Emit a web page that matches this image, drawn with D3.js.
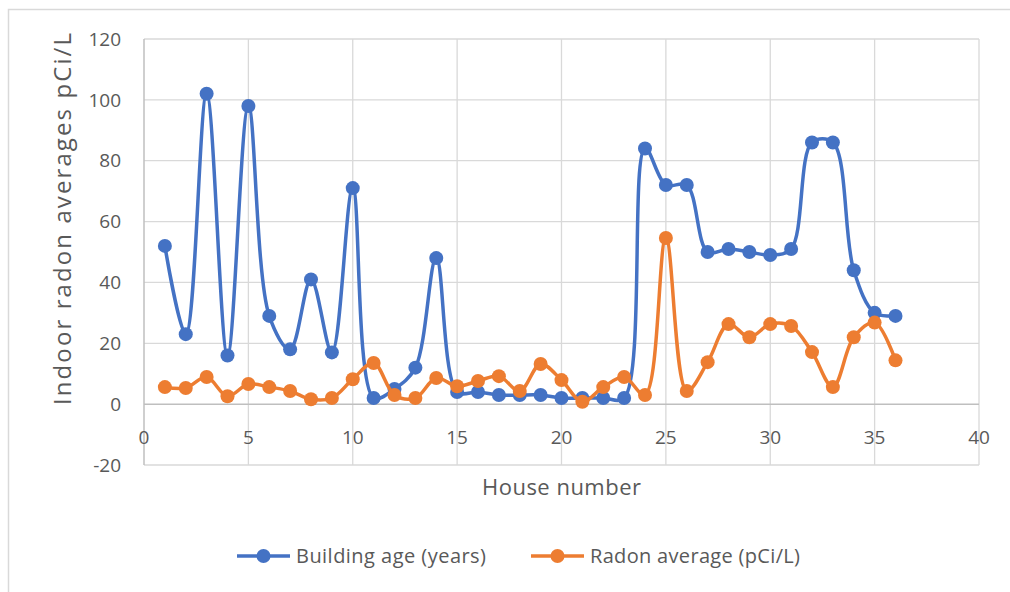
<!DOCTYPE html>
<html>
<head>
<meta charset="utf-8">
<script src="https://cdn.jsdelivr.net/npm/d3@7"></script>
<style>
  body { margin: 0; background: #fff; }
  svg text { font-family: "Open Sans", sans-serif; fill: #595959; }
</style>
</head>
<body>
<div id="chart"></div>
<script>
// house numbers 1..36
const houses = [1, 2, 3, 4, 5, 6, 7, 8, 9, 10, 11, 12, 13, 14, 15, 16, 17, 18,
  19, 20, 21, 22, 23, 24, 25, 26, 27, 28, 29, 30, 31, 32, 33, 34, 35, 36];
const buildingAge = [52, 23, 102, 16, 98, 29, 18, 41, 17, 71, 2, 5, 12, 48, 4, 4, 3, 3,
  3, 2, 2, 2, 2, 84, 72, 72, 50, 51, 50, 49, 51, 86, 86, 44, 30, 29];
const radonAvg = [5.6, 5.3, 8.9, 2.6, 6.6, 5.6, 4.3, 1.6, 2, 8.2, 13.5, 3, 2, 8.6, 5.9, 7.6, 9.2, 4.3,
  13.2, 7.9, 0.8, 5.6, 8.9, 3, 54.6, 4.3, 13.8, 26.3, 22, 26.3, 25.7, 17.1, 5.6, 22, 26.8, 14.4];
const xTicks = [0, 5, 10, 15, 20, 25, 30, 35, 40];
const yTicks = [-20, 0, 20, 40, 60, 80, 100, 120];

const series = [
  { name: "Building age (years)", values: buildingAge, color: "#4472C4" },
  { name: "Radon average (pCi/L)", values: radonAvg, color: "#ED7D31" }
];

const W = 1010, H = 592;
const margin = { top: 39, right: 31, bottom: 127, left: 144 };
const width = W - margin.left - margin.right;
const height = H - margin.top - margin.bottom;

const svg = d3.select("#chart").append("svg")
  .attr("width", W).attr("height", H);

// outer chart frame
svg.append("rect")
  .attr("x", 8.5).attr("y", 9.5)
  .attr("width", 1010).attr("height", 600)
  .attr("fill", "none").attr("stroke", "#D9D9D9").attr("stroke-width", 1.5);

const g = svg.append("g").attr("transform", `translate(${margin.left},${margin.top})`);

const x = d3.scaleLinear().domain([0, 40]).range([0, width]);
const y = d3.scaleLinear().domain([-20, 120]).range([height, 0]);

// gridlines
g.append("g").selectAll("line").data(yTicks.filter(d => d !== 0)).join("line")
  .attr("x1", 0).attr("x2", width)
  .attr("y1", d => y(d)).attr("y2", d => y(d))
  .attr("stroke", "#D9D9D9").attr("stroke-width", 1.3);
g.append("g").selectAll("line").data(xTicks.filter(d => d !== 0)).join("line")
  .attr("x1", d => x(d)).attr("x2", d => x(d))
  .attr("y1", 0).attr("y2", height)
  .attr("stroke", "#D9D9D9").attr("stroke-width", 1.3);

// axis lines
g.append("line").attr("x1", 0).attr("x2", width).attr("y1", y(0)).attr("y2", y(0))
  .attr("stroke", "#BFBFBF").attr("stroke-width", 1.5);
g.append("line").attr("x1", x(0)).attr("x2", x(0)).attr("y1", 0).attr("y2", height)
  .attr("stroke", "#BFBFBF").attr("stroke-width", 1.5);

// tick labels
g.append("g").selectAll("text").data(yTicks).join("text")
  .attr("x", -23).attr("y", d => y(d))
  .attr("dy", "0.35em").attr("text-anchor", "end")
  .style("font-size", "19px")
  .text(d => d);
g.append("g").selectAll("text").data(xTicks).join("text")
  .attr("x", d => x(d)).attr("y", y(0) + 33)
  .attr("dy", "0.35em").attr("text-anchor", "middle")
  .style("font-size", "19px")
  .text(d => d);

// axis titles
svg.append("text")
  .attr("x", 482).attr("y", 487)
  .attr("dy", "0.35em")
  .attr("textLength", 159).attr("lengthAdjust", "spacing")
  .style("font-size", "22px")
  .text("House number");
svg.append("text")
  .attr("transform", `translate(63,405) rotate(-90)`)
  .attr("dy", "0.35em")
  .attr("textLength", 372).attr("lengthAdjust", "spacing")
  .style("font-size", "24px")
  .text("Indoor radon averages pCi/L");

// lines + markers
const line = d3.line()
  .x((d, i) => x(houses[i]))
  .y(d => y(d))
  .curve(d3.curveCatmullRom.alpha(0.5));

series.forEach(s => {
  const sg = g.append("g");
  sg.append("path")
    .datum(s.values)
    .attr("d", line)
    .attr("fill", "none")
    .attr("stroke", s.color)
    .attr("stroke-width", 3.5)
    .attr("stroke-linejoin", "round");
  sg.selectAll("circle").data(s.values).join("circle")
    .attr("cx", (d, i) => x(houses[i]))
    .attr("cy", d => y(d))
    .attr("r", 7)
    .attr("fill", s.color);
});

// legend
const legend = svg.append("g");
const legendItems = [{ x: 237, w: 190 }, { x: 531, w: 210 }];
series.forEach((s, i) => {
  const lx = legendItems[i].x, ly = 556;
  legend.append("line")
    .attr("x1", lx).attr("x2", lx + 53).attr("y1", ly).attr("y2", ly)
    .attr("stroke", s.color).attr("stroke-width", 3.5);
  legend.append("circle")
    .attr("cx", lx + 26.5).attr("cy", ly).attr("r", 7).attr("fill", s.color);
  legend.append("text")
    .attr("x", lx + 59).attr("y", ly)
    .attr("dy", "0.35em")
    .attr("textLength", legendItems[i].w).attr("lengthAdjust", "spacing")
    .style("font-size", "20px")
    .text(s.name);
});
</script>
</body>
</html>
